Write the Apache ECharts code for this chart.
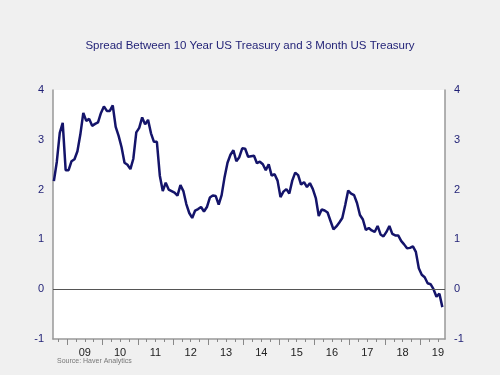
<!DOCTYPE html>
<html>
<head>
<meta charset="utf-8">
<script src="https://cdn.jsdelivr.net/npm/echarts@6/dist/echarts.min.js"></script>
<style>
  html, body { margin: 0; padding: 0; background: #f0f0f0; }
  #chart { width: 500px; height: 375px; }
</style>
</head>
<body>
<div id="chart"></div>
<script>
// monthly spread, Aug 2008 .. Aug 2019
var startYear = 2008, startMonth = 8
var spread = [
  2.17, 2.56, 3.14, 3.34, 2.39,
  2.39, 2.57, 2.61, 2.77, 3.11, 3.54, 3.38, 3.42, 3.28, 3.32, 3.35, 3.54,
  3.67, 3.58, 3.58, 3.69, 3.26, 3.08, 2.85, 2.54, 2.50, 2.41, 2.62, 3.15,
  3.24, 3.45, 3.31, 3.40, 3.13, 2.96, 2.96, 2.28, 1.97, 2.14, 2.00, 1.97,
  1.94, 1.88, 2.09, 1.97, 1.71, 1.53, 1.43, 1.58, 1.61, 1.65, 1.56, 1.65,
  1.84, 1.88, 1.87, 1.70, 1.89, 2.25, 2.54, 2.70, 2.79, 2.57, 2.65, 2.83,
  2.82, 2.66, 2.67, 2.68, 2.53, 2.56, 2.51, 2.39, 2.51, 2.28, 2.31, 2.18,
  1.85, 1.96, 2.01, 1.92, 2.18, 2.34, 2.29, 2.10, 2.15, 2.05, 2.13, 2.01,
  1.83, 1.47, 1.60, 1.58, 1.54, 1.37, 1.20, 1.26, 1.34, 1.43, 1.69, 1.98,
  1.92, 1.89, 1.73, 1.49, 1.40, 1.19, 1.23, 1.18, 1.15, 1.27, 1.10, 1.06,
  1.15, 1.27, 1.11, 1.08, 1.08, 0.97, 0.90, 0.82, 0.83, 0.86, 0.75, 0.42,
  0.29, 0.24, 0.12, 0.10, 0.00, -0.15, -0.09, -0.36
]
var yearLabels = ['09', '10', '11', '12', '13', '14', '15', '16', '17', '18', '19']
var yTicks = [-1, 0, 1, 2, 3, 4]

var chart = echarts.init(document.getElementById('chart'))

var points = spread.map(function (v, i) {
  var m = startMonth - 1 + i
  return [startYear + Math.floor(m / 12) + ((m % 12) + 0.5) / 12, v]
})
var labelPos = yearLabels.map(function (s) { return 2000 + Number(s) + 0.5 })
var yearTicks = []
var quarterTicks = []
for (var y = 2009; y <= 2019; y++) {
  yearTicks.push(y)
  quarterTicks.push(y - 0.25, y + 0.25, y + 0.5)
}

var xMin = 2008.6, xMax = 2019.7
var navy = '#1f1f75'

var option = {
  backgroundColor: '#f0f0f0',
  animation: false,
  title: {
    text: 'Spread Between 10 Year US Treasury and 3 Month US Treasury',
    left: 'center',
    top: 35,
    textStyle: { fontFamily: 'Liberation Sans, Arial', fontSize: 11.5, fontWeight: 'normal', color: navy }
  },
  graphic: [{
    type: 'text', left: 57, top: 358,
    style: { text: 'Source: Haver Analytics', fontSize: 7, fontFamily: 'Liberation Sans, Arial', fill: '#777' }
  }],
  grid: {
    left: 53, right: 55, top: 90, bottom: 36,
    show: true, backgroundColor: '#fff', borderWidth: 0
  },
  xAxis: [{
    type: 'value', min: xMin, max: xMax,
    axisLine: { onZero: false, lineStyle: { color: '#999', width: 1.5 } },
    axisTick: { customValues: yearTicks, length: 6, lineStyle: { color: '#888' } },
    axisLabel: {
      customValues: labelPos,
      formatter: function (v) { return String(Math.floor(v)).slice(2) },
      margin: 8, fontSize: 11, color: '#222', fontFamily: 'Liberation Sans, Arial'
    },
    splitLine: { show: false }
  }, {
    type: 'value', min: xMin, max: xMax, position: 'bottom',
    axisLine: { show: false, onZero: false },
    axisTick: { customValues: quarterTicks, length: 3, lineStyle: { color: '#888' } },
    axisLabel: { show: false },
    splitLine: { show: false }
  }],
  yAxis: [{
    type: 'value', min: -1, max: 4, interval: 1,
    axisLine: { show: true, onZero: false, lineStyle: { color: '#999', width: 1.5 } },
    axisTick: { show: false },
    axisLabel: { customValues: yTicks, margin: 9, fontSize: 11, color: navy, fontFamily: 'Liberation Sans, Arial' },
    splitLine: { show: false }
  }, {
    type: 'value', min: -1, max: 4, interval: 1, position: 'right',
    axisLine: { show: true, onZero: false, lineStyle: { color: '#999', width: 1.5 } },
    axisTick: { show: false },
    axisLabel: { customValues: yTicks, margin: 9, fontSize: 11, color: navy, fontFamily: 'Liberation Sans, Arial' },
    splitLine: { show: false }
  }],
  series: [{
    type: 'line',
    data: points,
    showSymbol: false,
    lineStyle: { color: '#14146a', width: 2.5 },
    markLine: {
      silent: true,
      symbol: 'none',
      label: { show: false },
      lineStyle: { color: '#555', width: 1, type: 'solid' },
      data: [{ yAxis: 0 }]
    }
  }]
}
chart.setOption(option)
</script>
</body>
</html>
